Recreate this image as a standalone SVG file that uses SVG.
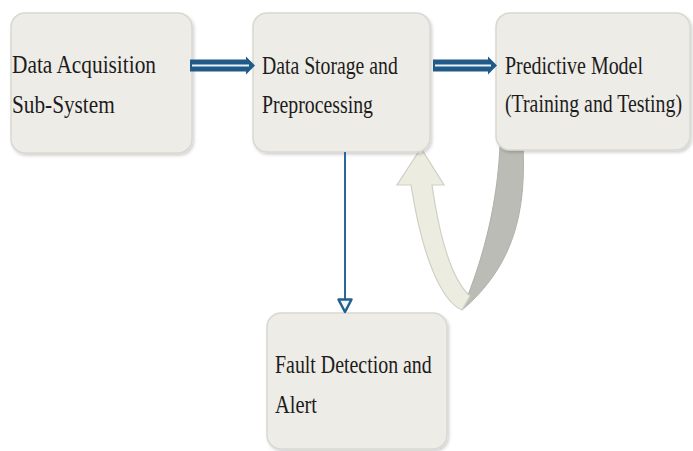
<svg xmlns="http://www.w3.org/2000/svg" width="693" height="451" viewBox="0 0 693 451">
<defs>
<filter id="sh" x="-10%" y="-10%" width="120%" height="120%">
<feDropShadow dx="1.5" dy="2" stdDeviation="1.5" flood-color="#000" flood-opacity="0.18"/>
</filter>
</defs>
<style>
.box{fill:#eeece7;stroke:#d9d7d1;stroke-width:1.5;filter:url(#sh)}
.t{font-family:"Liberation Serif","Times New Roman",serif;font-size:25px;fill:#1c1c1c}
.dbl{fill:#1f5a88}
.gap{stroke:#e9f1f6;stroke-width:2.2;fill:none}
</style>
<rect width="693" height="451" fill="#ffffff"/>
<g id="feedback">
<path d="M500,146 L523,146 C526,210 515,265 462,310 C470,290 496,230 500,146 Z" fill="#bcbcb7" stroke="#b0b0ab" stroke-width="1"/>
<path d="M462,310 C443,302 423,262 411,185 L397,185 L421,148 L444,185 L432,185 C440,240 452,280 470,296 Z" fill="#ecece1" stroke="#cfcfc6" stroke-width="1.2"/>
</g>
<g id="n1">
<rect class="box" x="11" y="13" width="181" height="140" rx="14"/>
<text class="t" transform="translate(12,73) scale(0.75,1)" textLength="192" lengthAdjust="spacingAndGlyphs">Data Acquisition</text>
<text class="t" transform="translate(12,113) scale(0.75,1)" textLength="137" lengthAdjust="spacingAndGlyphs">Sub-System</text>
</g>
<g id="n2">
<rect class="box" x="253" y="13" width="177" height="139" rx="14"/>
<text class="t" transform="translate(262,74) scale(0.75,1)" textLength="181" lengthAdjust="spacingAndGlyphs">Data Storage and</text>
<text class="t" transform="translate(262,113) scale(0.75,1)" textLength="148" lengthAdjust="spacingAndGlyphs">Preprocessing</text>
</g>
<g id="n3">
<rect class="box" x="496" y="13" width="194" height="137" rx="14"/>
<text class="t" transform="translate(505,74) scale(0.75,1)" textLength="184" lengthAdjust="spacingAndGlyphs">Predictive Model</text>
<text class="t" transform="translate(505,112) scale(0.75,1)" textLength="236" lengthAdjust="spacingAndGlyphs">(Training and Testing)</text>
</g>
<g id="n4">
<rect class="box" x="267" y="313" width="180" height="136" rx="14"/>
<text class="t" transform="translate(275,373) scale(0.75,1)" textLength="209" lengthAdjust="spacingAndGlyphs">Fault Detection and</text>
<text class="t" transform="translate(275,413) scale(0.75,1)" textLength="56" lengthAdjust="spacingAndGlyphs">Alert</text>
</g>
<g id="connectors">
<polygon class="dbl" points="190,59.5 246,59.5 246,56.5 255,65.5 246,74.5 246,71.5 190,71.5"/>
<line class="gap" x1="192" y1="65.5" x2="249" y2="65.5"/>
<polygon class="dbl" points="433,59.5 488,59.5 488,56.5 497,65.5 488,74.5 488,71.5 433,71.5"/>
<line class="gap" x1="435" y1="65.5" x2="491" y2="65.5"/>
<line x1="345" y1="152" x2="345" y2="299" stroke="#2a679a" stroke-width="2"/>
<polygon points="338.5,299.5 351.5,299.5 345,312" fill="#f4f7fa" stroke="#23608f" stroke-width="2.5" stroke-linejoin="round"/>
</g>
</svg>
